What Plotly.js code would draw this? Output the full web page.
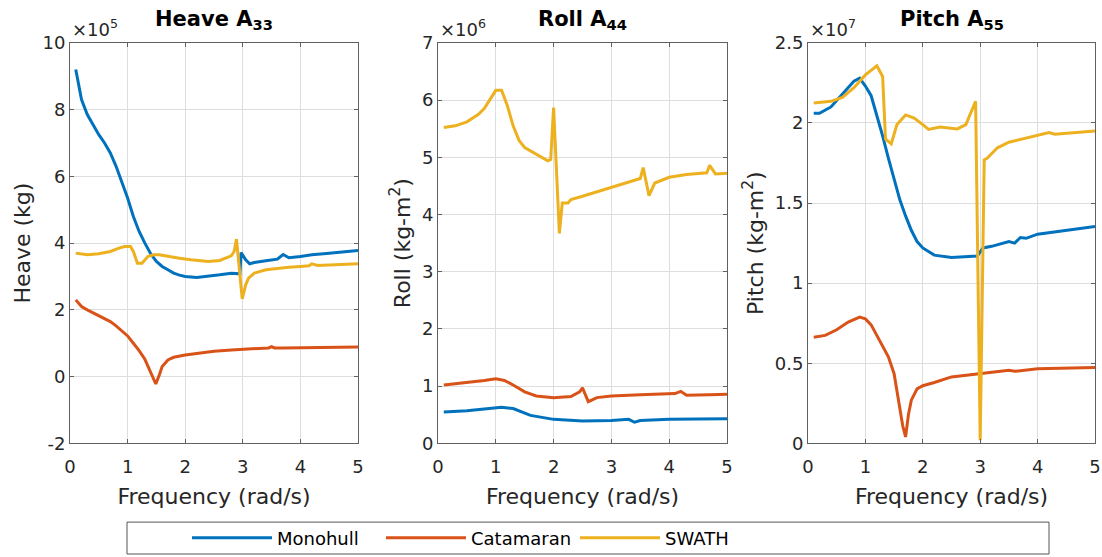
<!DOCTYPE html>
<html>
<head>
<meta charset="utf-8">
<script src="https://cdn.plot.ly/plotly-3.0.1.min.js"></script>
<style>html,body{margin:0;padding:0;background:#fff;}#chart{width:1102px;height:557px;}</style>
</head>
<body>
<div id="chart"></div>
<script>
// ---------- DATA ----------
const seriesNames = ['Monohull', 'Catamaran', 'SWATH'];
const seriesColors = ['#0072BD', '#D95319', '#EDB120'];

// Heave A33 (x 1e5 kg)
const heaveMonoF = [0.1,0.15,0.2,0.3,0.4,0.5,0.6,0.7,0.8,0.9,1.0,1.1,1.2,1.3,1.4,1.5,1.6,1.7,1.8,1.9,2.0,2.2,2.4,2.6,2.8,2.9,2.95,2.97,3.05,3.12,3.2,3.4,3.6,3.7,3.8,4.0,4.2,4.5,4.8,5.0];
const heaveMonoV = [9.2,8.7,8.3,7.85,7.55,7.25,7.0,6.7,6.3,5.85,5.35,4.8,4.35,4.0,3.68,3.45,3.3,3.2,3.1,3.04,3.0,2.97,3.0,3.05,3.1,3.1,3.08,3.72,3.5,3.38,3.42,3.47,3.52,3.66,3.56,3.6,3.65,3.7,3.75,3.78];
const heaveCatF = [0.1,0.2,0.3,0.5,0.7,0.8,0.9,1.0,1.1,1.2,1.3,1.4,1.45,1.49,1.55,1.6,1.7,1.8,2.0,2.2,2.5,2.8,3.0,3.3,3.45,3.5,3.55,3.7,4.0,4.5,5.0];
const heaveCatV = [2.3,2.1,2.0,1.82,1.65,1.52,1.38,1.22,1.0,0.78,0.52,0.15,-0.05,-0.22,0.05,0.3,0.5,0.58,0.65,0.7,0.76,0.8,0.82,0.84,0.86,0.9,0.86,0.86,0.87,0.88,0.89];
const heaveSwathF = [0.1,0.3,0.5,0.7,0.85,0.95,1.05,1.1,1.17,1.25,1.35,1.45,1.55,1.7,1.9,2.1,2.4,2.6,2.7,2.8,2.85,2.89,2.99,3.05,3.1,3.2,3.4,3.6,3.8,4.0,4.15,4.2,4.3,4.6,5.0];
const heaveSwathV = [3.7,3.65,3.68,3.75,3.85,3.9,3.9,3.75,3.4,3.4,3.6,3.65,3.65,3.6,3.55,3.5,3.45,3.48,3.55,3.62,3.75,4.12,2.33,2.75,2.95,3.1,3.2,3.25,3.28,3.3,3.32,3.38,3.33,3.35,3.38];

// Roll A44 (x 1e6 kg-m^2)
const rollMonoF = [0.1,0.5,0.8,1.1,1.3,1.6,2.0,2.5,3.0,3.3,3.4,3.5,4.0,5.0];
const rollMonoV = [0.55,0.57,0.6,0.63,0.61,0.49,0.42,0.39,0.4,0.42,0.37,0.4,0.42,0.43];
const rollCatF = [0.1,0.5,0.8,1.0,1.15,1.3,1.5,1.7,2.0,2.3,2.45,2.5,2.6,2.75,3.0,3.5,4.1,4.2,4.3,4.7,5.0];
const rollCatV = [1.02,1.06,1.1,1.13,1.1,1.02,0.9,0.83,0.8,0.82,0.9,0.97,0.73,0.8,0.83,0.85,0.87,0.91,0.84,0.85,0.86];
const rollSwathF = [0.1,0.3,0.5,0.7,0.8,0.9,1.0,1.1,1.2,1.3,1.4,1.5,1.7,1.9,1.95,2.0,2.1,2.15,2.25,2.3,2.5,2.7,3.0,3.3,3.5,3.55,3.65,3.75,4.0,4.3,4.65,4.7,4.8,5.0];
const rollSwathV = [5.52,5.55,5.62,5.75,5.85,6.0,6.17,6.17,5.9,5.55,5.3,5.17,5.05,4.94,4.96,5.87,3.67,4.2,4.2,4.26,4.32,4.38,4.48,4.56,4.63,4.82,4.33,4.55,4.65,4.7,4.73,4.86,4.71,4.72];

// Pitch A55 (x 1e7 kg-m^2)
const pitchMonoF = [0.1,0.2,0.4,0.6,0.8,0.9,1.0,1.1,1.2,1.3,1.4,1.5,1.6,1.7,1.8,1.9,2.0,2.2,2.5,2.8,2.95,3.05,3.2,3.5,3.6,3.7,3.8,4.0,4.5,5.0];
const pitchMonoV = [2.06,2.06,2.1,2.18,2.26,2.28,2.23,2.17,2.05,1.92,1.78,1.65,1.52,1.42,1.33,1.26,1.22,1.175,1.16,1.167,1.17,1.22,1.23,1.26,1.25,1.285,1.28,1.306,1.33,1.354];
const pitchCatF = [0.1,0.3,0.5,0.7,0.9,1.0,1.1,1.2,1.3,1.4,1.5,1.55,1.6,1.65,1.7,1.75,1.8,1.9,2.0,2.2,2.5,3.0,3.5,3.6,4.0,5.0];
const pitchCatV = [0.663,0.674,0.709,0.757,0.788,0.777,0.74,0.674,0.61,0.54,0.435,0.33,0.24,0.11,0.04,0.18,0.27,0.34,0.36,0.38,0.415,0.435,0.456,0.45,0.466,0.473];
const pitchSwathF = [0.1,0.4,0.6,0.8,1.0,1.2,1.3,1.35,1.45,1.55,1.7,1.85,2.0,2.1,2.3,2.5,2.6,2.75,2.85,2.92,3.0,3.07,3.12,3.2,3.3,3.5,4.0,4.2,4.3,5.0];
const pitchSwathV = [2.125,2.135,2.16,2.22,2.3,2.357,2.29,1.9,1.87,1.99,2.05,2.03,1.99,1.96,1.975,1.97,1.963,1.99,2.07,2.135,0.02,1.77,1.78,1.81,1.845,1.88,1.92,1.94,1.93,1.95];

const xTicks = [0, 1, 2, 3, 4, 5];
const heaveTicks = [-2, 0, 2, 4, 6, 8, 10];
const rollTicks = [0, 1, 2, 3, 4, 5, 6, 7];
const pitchTicks = [0, 0.5, 1, 1.5, 2, 2.5];
const panelTitles = ['Heave A<sub>33</sub>', 'Roll A<sub>44</sub>', 'Pitch A<sub>55</sub>'];
const yTitles = ['Heave (kg)', 'Roll (kg-m<sup>2</sup>)', 'Pitch (kg-m<sup>2</sup>)'];
const exponents = ['×10<sup>5</sup>', '×10<sup>6</sup>', '×10<sup>7</sup>'];
const xTitle = 'Frequency (rad/s)';

// ---------- BUILD ----------
const panels = [
  [[heaveMonoF, heaveMonoV], [heaveCatF, heaveCatV], [heaveSwathF, heaveSwathV]],
  [[rollMonoF, rollMonoV], [rollCatF, rollCatV], [rollSwathF, rollSwathV]],
  [[pitchMonoF, pitchMonoV], [pitchCatF, pitchCatV], [pitchSwathF, pitchSwathV]]
];
const traces = [];
panels.forEach((p, pi) => {
  p.forEach((s, si) => {
    traces.push({
      x: s[0], y: s[1], type: 'scatter', mode: 'lines',
      name: seriesNames[si], legendgroup: seriesNames[si],
      showlegend: pi === 0,
      line: {color: seriesColors[si], width: 3},
      xaxis: pi === 0 ? 'x' : 'x' + (pi + 1),
      yaxis: pi === 0 ? 'y' : 'y' + (pi + 1),
      hoverinfo: 'skip'
    });
  });
});

const W = 1102, H = 557;
const xDom = [[70 / W, 358 / W], [438 / W, 727 / W], [808 / W, 1095 / W]];
const yDom = [1 - 445 / H, 1 - 43 / H];
const yRanges = [[-2, 10], [0, 7], [0, 2.5]];
const yTickSets = [heaveTicks, rollTicks, pitchTicks];
const FONT = 'DejaVu Sans, Liberation Sans, Arial, sans-serif';
const axisColor = '#606060';
const gridColor = '#dedede';

const layout = {
  width: W, height: H,
  margin: {l: 0, r: 0, t: 0, b: 0},
  paper_bgcolor: '#ffffff', plot_bgcolor: '#ffffff',
  font: {family: FONT, color: '#262626', size: 18},
  showlegend: true,
  legend: {
    orientation: 'h', x: 187 / W, xanchor: 'left', y: 1 - 540 / H, yanchor: 'middle',
    bgcolor: 'rgba(0,0,0,0)', borderwidth: 0,
    font: {family: FONT, size: 18, color: '#000'},
    itemwidth: 80, entrywidth: 99, entrywidthmode: 'pixels'
  },
  shapes: [{
    type: 'rect', xref: 'paper', yref: 'paper',
    x0: 127 / W, x1: 1049 / W, y0: 1 / H, y1: 1 - 524 / H,
    line: {color: '#555555', width: 1}, fillcolor: 'rgba(0,0,0,0)'
  }],
  annotations: []
};

for (let i = 0; i < 3; i++) {
  const xa = i === 0 ? 'xaxis' : 'xaxis' + (i + 1);
  const ya = i === 0 ? 'yaxis' : 'yaxis' + (i + 1);
  const xid = i === 0 ? 'y' : 'y' + (i + 1);
  const yid = i === 0 ? 'x' : 'x' + (i + 1);
  layout[xa] = {
    domain: xDom[i], anchor: xid, range: [0, 5],
    tickmode: 'array', tickvals: xTicks, ticktext: xTicks.map(String),
    showgrid: true, gridcolor: gridColor, gridwidth: 1, zeroline: false,
    showline: true, linecolor: axisColor, linewidth: 1, mirror: 'ticks',
    ticks: 'inside', ticklen: 4, tickcolor: axisColor,
    tickfont: {size: 18, color: '#262626'}, ticklabelstandoff: 7,
    title: {text: xTitle, font: {size: 22, color: '#262626'}, standoff: 12}
  };
  layout[ya] = {
    domain: yDom, anchor: yid, range: yRanges[i],
    tickmode: 'array', tickvals: yTickSets[i], ticktext: yTickSets[i].map(String),
    showgrid: true, gridcolor: gridColor, gridwidth: 1, zeroline: false,
    showline: true, linecolor: axisColor, linewidth: 1, mirror: 'ticks',
    ticks: 'inside', ticklen: 4, tickcolor: axisColor,
    tickfont: {size: 18, color: '#262626'},
    title: {text: yTitles[i], font: {size: 22, color: '#262626'}, standoff: 5}
  };
  const cx = (xDom[i][0] + xDom[i][1]) / 2;
  layout.annotations.push({
    xref: 'paper', yref: 'paper', x: cx, y: 1 - 20 / H, xanchor: 'center', yanchor: 'middle',
    text: '<b>' + panelTitles[i] + '</b>', showarrow: false,
    font: {size: 21, color: '#000', family: FONT}
  });
  layout.annotations.push({
    xref: 'paper', yref: 'paper', x: xDom[i][0], y: 1 - 42 / H, xanchor: 'left', yanchor: 'bottom',
    text: exponents[i], showarrow: false,
    font: {size: 18, color: '#262626', family: FONT}
  });
}

Plotly.newPlot('chart', traces, layout, {staticPlot: true, displayModeBar: false});
</script>
</body>
</html>
